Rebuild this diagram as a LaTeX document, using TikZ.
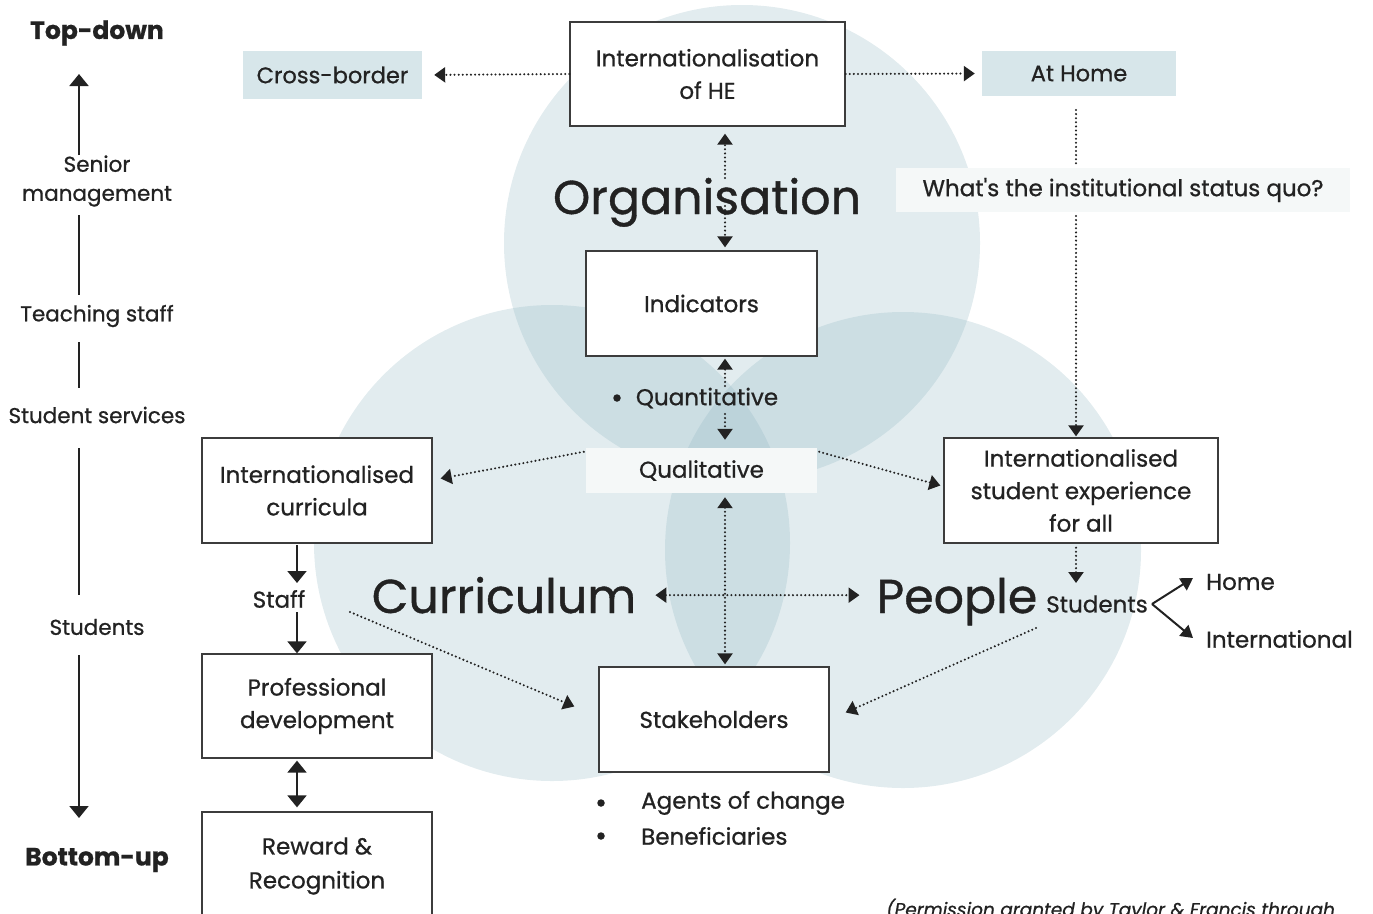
\documentclass[tikz,border=0pt]{standalone}
\usepackage{fontspec}
\setmainfont{Poppins}[FakeBold=0.8]
\newfontfamily\plainpop{Poppins}[FakeBold=0.8, Ligatures=ResetAll]
\usetikzlibrary{arrows.meta,calc}
\definecolor{circ}{RGB}{139,179,191}
\definecolor{txt}{RGB}{34,34,34}
\definecolor{boxc}{RGB}{60,60,60}
\definecolor{tagc}{RGB}{215,230,234}
\definecolor{pale}{RGB}{245,248,248}
\tikzset{
  box/.style={draw=boxc, line width=1.3pt, fill=white, align=center, inner sep=0pt, text=txt, font=\fontsize{23}{32.5}\selectfont},
  tag/.style={fill=tagc, inner sep=0pt, text=txt, font=\fontsize{22.5}{32}\selectfont},
  palebox/.style={fill=pale, inner sep=0pt, text=txt, font=\fontsize{23}{32}\selectfont},
  lbl/.style={inner sep=0pt, text=txt, align=center, font=\fontsize{21.5}{29}\selectfont},
  txt23/.style={inner sep=0pt, text=txt, align=center, font=\fontsize{23}{28}\selectfont},
  big/.style={inner sep=0pt, text=txt, anchor=base, font=\fontsize{47.5}{50}\selectfont},
  bul/.style={circle, fill=txt, inner sep=0pt, minimum size=7.5pt},
  dotline/.style={draw=txt, line width=2.3pt, dash pattern=on 0pt off 4.1pt, line cap=round},
  dtip/.tip={Triangle[length=11pt,width=15pt]},
  stip/.tip={Triangle[length=12pt,width=19pt]},
  solid arrow/.style={draw=txt, line width=2pt},
}
\begin{document}
\begin{tikzpicture}[x=1pt,y=-1pt]
\useasboundingbox (0,0) rectangle (1373,913);
\clip (0,0) rectangle (1373,913);
% circles
\fill[circ, fill opacity=0.25] (742,243) circle[radius=238];
\fill[circ, fill opacity=0.25] (552,543) circle[radius=238];
\fill[circ, fill opacity=0.25] (903,550) circle[radius=238];

% left axis
\node[inner sep=0pt, text=txt, font=\fontsize{25}{28}\bfseries] (td) at (97,33) {Top-down};
\node[inner sep=0pt, text=txt, font=\fontsize{25}{28}\bfseries] (bu) at (97,860) {Bottom-up};
\node[lbl] (sm) at (97,181) {Senior\\management};
\node[lbl] (ts) at (97,316) {Teaching staff};
\node[lbl] (ss) at (97,415) {Student services};
\node[lbl] (st) at (97,627) {Students};
\coordinate (a1) at (79,155);
\coordinate (a1t) at (79,74);
\coordinate (a2) at (79,215);
\coordinate (a2b) at (79,295);
\coordinate (a3) at (79,342);
\coordinate (a3b) at (79,388);
\coordinate (a4) at (79,448);
\coordinate (a4b) at (79,595);
\coordinate (a5) at (79,655);
\coordinate (a5t) at (79,818);
\draw[solid arrow, -stip] (a1) -- (a1t);
\draw[solid arrow] (a2) -- (a2b);
\draw[solid arrow] (a3) -- (a3b);
\draw[solid arrow] (a4) -- (a4b);
\draw[solid arrow, -stip] (a5) -- (a5t);

% boxes
\node[box, minimum width=275, minimum height=104] (ihe) at (707.5,74) {Internationalisation\\of HE};
\node[tag, minimum width=179, minimum height=48] (cb) at (332.5,75) {Cross-border};
\node[tag, minimum width=194, minimum height=45] (ah) at (1079,73.5) {At Home};
\node[palebox, minimum width=454, minimum height=44] (sq) at (1123,190) {\plainpop What's the institutional status quo?};
\node[box, minimum width=231, minimum height=105] (ind) at (701.5,303.5) {Indicators};
\node[txt23] (quant) at (707,398) {Quantitative};
\node[bul] (qb) at (617,398) {};
\node[palebox, minimum width=231, minimum height=45] (qual) at (701.5,470.5) {Qualitative};
\node[box, minimum width=230, minimum height=105] (icur) at (317,490.5) {Internationalised\\curricula};
\node[box, minimum width=274, minimum height=105] (istu) at (1081,490.5) {Internationalised\\student experience\\for all};
\node[box, minimum width=230, minimum height=104] (pd) at (317,706) {Professional\\development};
\node[box, minimum width=230, minimum height=130] (rr) at (317,877) {};
\node[txt23, font=\fontsize{23}{34}\selectfont] (rrt) at (317,866) {Reward \&\\Recognition};
\node[box, minimum width=230, minimum height=105] (stk) at (714,719.5) {Stakeholders};

% big words
\node[big] (org) at (707,214) {Organisation};
\node[big] (curr) at (504,613) {Curriculum};
\node[big] (peop) at (957,613) {People};

% small labels
\node[txt23] (stud) at (1097,604) {Students};
\node[txt23, anchor=west] (home) at (1206,582) {Home};
\node[txt23, anchor=west] (intl) at (1206,639) {International};
\node[txt23] (staff) at (279,599) {Staff};
\node[bul] (b1) at (601,803) {};
\node[txt23, anchor=west] (agents) at (641,803) {Agents of change};
\node[bul] (b2) at (601,836) {};
\node[txt23, anchor=west] (benef) at (641,836) {Beneficiaries};
\node[inner sep=0pt, text=txt, anchor=base west, font=\fontsize{18.5}{20}\itshape] (perm) at (886,916) {(Permission granted by Taylor \& Francis through};

% dotted connectors
\draw[dotline, -dtip, shorten >=12] (ihe.west) -- (cb.east);
\draw[dotline, -dtip, shorten >=7] (ihe.east) -- (ah.west);
\coordinate (vx) at (725,0);
\coordinate (o1) at (725,178);
\coordinate (o2) at (725,206);
\draw[dotline, -dtip, shorten >=7] (o1) -- (ihe.south -| vx);
\draw[dotline, -dtip, shorten >=3] (o2) -- (ind.north -| vx);
\coordinate (q1) at (725,386);
\coordinate (q2) at (725,414);
\draw[dotline, -dtip, shorten >=2] (q1) -- (ind.south -| vx);
\draw[dotline, -dtip, shorten >=8] (q2) -- (qual.north -| vx);
\draw[dotline, dtip-dtip, shorten <=4, shorten >=2] (qual.south -| vx) -- (stk.north -| vx);
\draw[dotline, dtip-dtip, shorten <=19, shorten >=17] (curr.east) -- (curr.east -| peop.west);
\draw[dotline, -dtip] ($(qual.north west)+(-2,4)$) -- ($(icur.east)+(8,-12)$);
\draw[dotline, -dtip] ($(qual.north east)+(2,4)$) -- ($(istu.west)+(-3,-5)$);
\coordinate (h1) at (1076,110);
\coordinate (h2) at (1076,165);
\coordinate (h3) at (1076,216);
\coordinate (h4) at (1076,583);
\draw[dotline] (h1) -- (h2);
\draw[dotline, -dtip, shorten >=1] (h3) -- (istu.north -| h3);
\draw[dotline, -dtip, shorten <=4] (istu.south -| h3) -- (h4);
\coordinate (s1) at (350,612);
\draw[dotline, -dtip] (s1) -- ($(stk.west)+(-24,-13)$);
\coordinate (p1) at (1036,628);
\draw[dotline, -dtip] (p1) -- ($(stk.east)+(16,-7)$);

% solid connectors
\coordinate (c1) at (297,545);
\coordinate (c1t) at (297,583);
\coordinate (c2) at (297,612);
\draw[solid arrow, -stip] (c1) -- (c1t);
\draw[solid arrow, -stip] (c2) -- (c2 |- pd.north);
\draw[solid arrow, stip-stip, shorten <=2, shorten >=4] (pd.south -| c2) -- (c2 |- rr.north);
\coordinate (sj) at (1152,604);
\coordinate (hj) at (1193,578);
\coordinate (ij) at (1193,638);
\draw[draw=txt, line width=2pt, -{Triangle[length=12pt,width=14pt]}] (sj) -- (hj);
\draw[draw=txt, line width=2pt, -{Triangle[length=12pt,width=14pt]}] (sj) -- (ij);
\end{tikzpicture}
\end{document}
